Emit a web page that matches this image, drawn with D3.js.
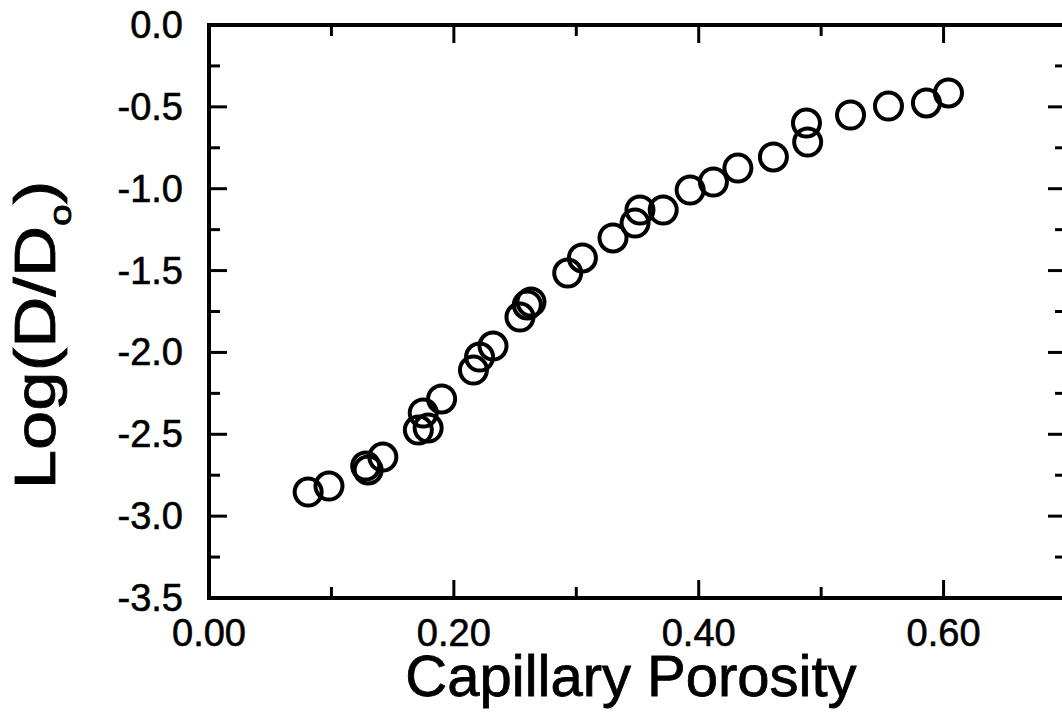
<!DOCTYPE html>
<html lang="en">
<head>
    <meta charset="UTF-8">
    <title>Log(D/Do) vs Capillary Porosity</title>
    <style>
        body {
            margin: 0;
            background-color: white;
        }

        svg {
            display: block;
            font-family: "Liberation Sans", Arial, Helvetica, sans-serif;
        }

        .point {
            fill: none;
            stroke: black;
            stroke-width: 4px;
        }

        .frame {
            fill: none;
            stroke: black;
            stroke-width: 4px;
        }

        .tick-mark {
            stroke: black;
            stroke-width: 3px;
        }

        .tick-label {
            font-size: 38px;
            fill: black;
            stroke: black;
            stroke-width: 0.6px;
        }

        .axis-title {
            font-size: 58px;
            fill: black;
            stroke: black;
            stroke-width: 0.8px;
        }
    </style>
    <script src="https://d3js.org/d3.v7.min.js"></script>
</head>
<body>

<script>
    // capillary porosity (x) and log(D/Do) (y)
    const porosity = [
        0.081, 0.098, 0.128, 0.130, 0.142, 0.171, 0.179, 0.175, 0.190, 0.216,
        0.221, 0.232, 0.254, 0.260, 0.263, 0.293, 0.305, 0.330, 0.348, 0.352,
        0.371, 0.393, 0.412, 0.432, 0.461, 0.489, 0.488, 0.524, 0.555, 0.586,
        0.604
    ];
    const logDiff = [
        -2.853, -2.816, -2.694, -2.718, -2.639, -2.474, -2.462, -2.370, -2.284, -2.108,
        -2.028, -1.961, -1.784, -1.710, -1.692, -1.515, -1.423, -1.301, -1.210, -1.130,
        -1.130, -1.008, -0.959, -0.874, -0.806, -0.715, -0.599, -0.550, -0.495, -0.476,
        -0.415
    ];

    const xTicks = [0.0, 0.2, 0.4, 0.6];
    const xMinor = [0.1, 0.3, 0.5];
    const yTicks = [0.0, -0.5, -1.0, -1.5, -2.0, -2.5, -3.0, -3.5];
    const yMinor = [-0.25, -0.75, -1.25, -1.75, -2.25, -2.75, -3.25];

    const width = 1062;
    const height = 715;

    const svg = d3.select("body")
                  .append("svg")
                  .attr("width", width)
                  .attr("height", height);

    const x = d3.scaleLinear().domain([0, 0.7]).range([209, 1066]);
    const y = d3.scaleLinear().domain([-3.5, 0]).range([598, 25]);

    const majorLen = 18;
    const minorLen = 11;

    // plain hyphen for negatives, like the original figure
    const fmt = d => d.toFixed(1);

    const ticks = svg.append("g");

    // bottom and top ticks, pointing inward
    xTicks.concat(xMinor).forEach(v => {
        const len = xTicks.includes(v) ? majorLen : minorLen;
        ticks.append("line").attr("class", "tick-mark")
             .attr("x1", x(v)).attr("x2", x(v))
             .attr("y1", y(-3.5)).attr("y2", y(-3.5) - len);
        ticks.append("line").attr("class", "tick-mark")
             .attr("x1", x(v)).attr("x2", x(v))
             .attr("y1", y(0)).attr("y2", y(0) + len);
    });

    // left and right ticks
    yTicks.concat(yMinor).forEach(v => {
        const len = yTicks.includes(v) ? majorLen : minorLen;
        ticks.append("line").attr("class", "tick-mark")
             .attr("x1", x(0)).attr("x2", x(0) + len)
             .attr("y1", y(v)).attr("y2", y(v));
        ticks.append("line").attr("class", "tick-mark")
             .attr("x1", x(0.7)).attr("x2", x(0.7) - len)
             .attr("y1", y(v)).attr("y2", y(v));
    });

    svg.append("rect")
       .attr("class", "frame")
       .attr("x", x(0))
       .attr("y", y(0))
       .attr("width", x(0.7) - x(0))
       .attr("height", y(-3.5) - y(0));

    svg.selectAll(".xlab")
       .data(xTicks)
       .enter()
       .append("text")
       .attr("class", "tick-label")
       .attr("x", d => x(d))
       .attr("y", 646)
       .attr("text-anchor", "middle")
       .text(d => d.toFixed(2));

    svg.selectAll(".ylab")
       .data(yTicks)
       .enter()
       .append("text")
       .attr("class", "tick-label")
       .attr("x", 183)
       .attr("y", d => y(d) + 13)
       .attr("text-anchor", "end")
       .text(d => fmt(d));

    svg.selectAll(".point")
       .data(porosity.map((p, i) => [p, logDiff[i]]))
       .enter()
       .append("circle")
       .attr("class", "point")
       .attr("r", 13.5)
       .attr("cx", d => x(d[0]))
       .attr("cy", d => y(d[1]));

    svg.append("text")
       .attr("class", "axis-title")
       .attr("x", 631)
       .attr("y", 696)
       .attr("text-anchor", "middle")
       .text("Capillary Porosity");

    const yTitle = svg.append("text")
       .attr("class", "axis-title")
       .attr("text-anchor", "middle")
       .attr("transform", "translate(55,335) rotate(-90) scale(1.22,1)");
    yTitle.append("tspan").text("Log(D/D");
    yTitle.append("tspan").attr("dy", 16).style("font-size", "32px").text("o");
    yTitle.append("tspan").attr("dy", -16).text(")");
</script>

</body>
</html>
